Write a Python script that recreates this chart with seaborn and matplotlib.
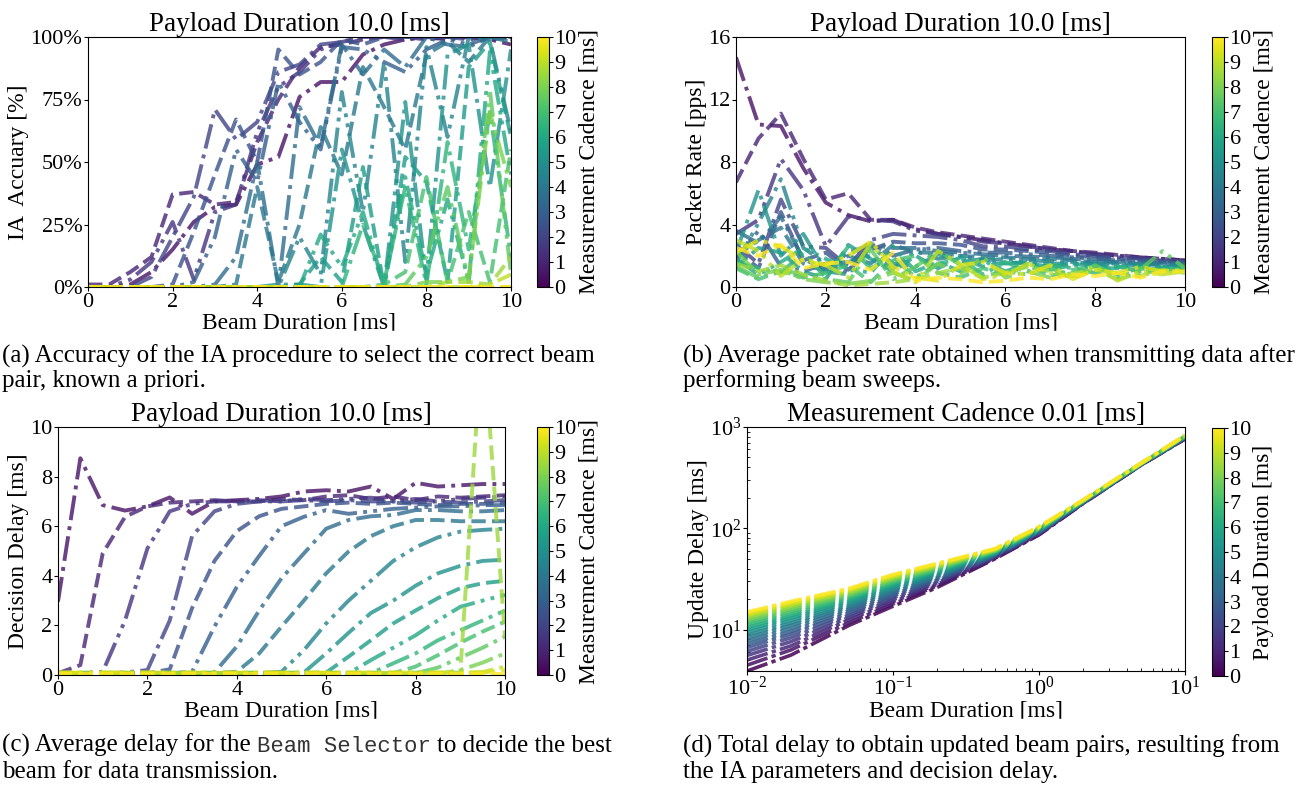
import matplotlib
matplotlib.use("Agg")
import matplotlib.pyplot as plt
import seaborn as sns
import pandas as pd
from matplotlib.colors import Normalize
from matplotlib.cm import ScalarMappable
from matplotlib.ticker import FuncFormatter
from matplotlib.patches import Rectangle

# ---------------- data ----------------
BEAM = [0, 0.5, 1, 1.5, 2, 2.5, 3, 3.5, 4, 4.5, 5, 5.5, 6, 6.5, 7, 7.5, 8, 8.5, 9, 9.5, 10]
CADENCE = [0.5, 1.0, 1.5, 2.0, 2.5, 3.0, 3.5, 4.0, 4.5, 5.0,
           5.5, 6.0, 6.5, 7.0, 7.5, 8.0, 8.5, 9.0, 9.5, 10.0]

# (a) IA accuracy [%], one row per measurement cadence
ACCURACY = [
    [0, 0, 1, 6, 15, 26, 32, 33, 49, 52, 76, 82, 82, 93, 97, 99, 100, 99, 100, 99, 97],
    [1, 1, 6, 12, 37, 38, 33, 34, 58, 75, 88, 96, 97, 99, 100, 100, 99, 100, 100, 99, 100],
    [0, 0, 3, 10, 26, 3, 30, 33, 62, 80, 86, 95, 98, 100, 100, 99, 100, 100, 100, 100, 100],
    [0, 0, 0, 4, 20, 36, 71, 59, 66, 86, 89, 97, 98, 100, 100, 100, 100, 100, 99, 100, 100],
    [0, 0, 0, 0, 1, 22, 45, 67, 50, 95, 85, 90, 99, 97, 100, 100, 100, 100, 100, 100, 100],
    [0, 0, 0, 0, 0, 2, 20, 55, 42, 82, 66, 55, 96, 95, 90, 86, 95, 99, 97, 100, 99],
    [0, 0, 0, 0, 0, 0, 1, 12, 50, 0, 72, 56, 97, 85, 95, 88, 100, 97, 96, 100, 100],
    [0, 0, 0, 0, 0, 0, 0, 1, 40, 2, 25, 64, 45, 88, 72, 55, 93, 98, 90, 100, 98],
    [0, 0, 0, 0, 0, 0, 0, 0, 0, 0, 20, 5, 78, 30, 90, 10, 96, 60, 100, 99, 62],
    [0, 0, 0, 0, 0, 0, 0, 0, 0, 1, 1, 0, 55, 25, 0, 74, 3, 93, 97, 40, 95],
    [0, 0, 0, 0, 0, 0, 0, 0, 0, 0, 1, 12, 2, 48, 0, 52, 42, 2, 88, 98, 60],
    [0, 0, 0, 0, 0, 0, 0, 0, 0, 0, 0, 21, 8, 30, 0, 44, 5, 35, 2, 94, 45],
    [0, 0, 0, 0, 0, 0, 0, 0, 0, 0, 0, 0, 0, 25, 2, 40, 1, 58, 15, 70, 12],
    [0, 0, 0, 0, 0, 0, 0, 0, 0, 0, 0, 0, 0, 0, 1, 6, 44, 2, 30, 2, 55],
    [0, 0, 0, 0, 0, 0, 0, 0, 0, 0, 0, 0, 0, 0, 0, 1, 12, 40, 2, 79, 5],
    [0, 0, 0, 0, 0, 0, 0, 0, 0, 0, 0, 0, 0, 0, 0, 0, 2, 2, 4, 70, 40],
    [0, 0, 0, 0, 0, 0, 0, 0, 0, 0, 0, 0, 0, 0, 0, 0, 0, 2, 2, 1, 12],
    [0, 0, 0, 0, 0, 0, 0, 0, 0, 0, 0, 0, 0, 0, 0, 0, 0, 0, 0, 1, 5],
    [0, 0, 0, 0, 0, 0, 0, 0, 0, 0, 0, 0, 0, 0, 0, 0, 0, 0, 0, 0, 0],
    [0, 0, 0, 0, 0, 0, 0, 0, 0, 0, 0, 0, 0, 0, 0, 0, 0, 0, 0, 0, 0],
]

# (b) packet rate [pps]
PACKET_RATE = [
    [14.7, 10.4, 10.3, 7.6, 5.4, 4.6, 4.2, 4.3, 3.7, 3.4, 3.2, 3.0, 2.8, 2.6, 2.4, 2.3, 2.1, 2.0, 1.9, 1.8, 1.7],
    [6.7, 9.5, 11.1, 8.2, 5.6, 6.0, 4.3, 4.3, 3.8, 3.5, 3.3, 3.1, 2.9, 2.7, 2.5, 2.3, 2.2, 2.05, 1.9, 1.8, 1.7],
    [3.4, 4.3, 8.2, 6.2, 2.6, 4.5, 4.3, 4.2, 3.6, 3.4, 3.2, 2.9, 2.8, 2.6, 2.4, 2.3, 2.1, 2.0, 1.85, 1.8, 1.7],
    [2.7, 1.5, 5.6, 2.6, 2.5, 1.3, 3.0, 3.4, 3.3, 3.2, 3.0, 2.6, 2.6, 2.4, 2.3, 2.1, 2.0, 1.9, 1.8, 1.7, 1.6],
    [2.4, 1.2, 4.8, 1.7, 2.2, 1.1, 2.4, 2.9, 2.8, 2.8, 2.7, 2.4, 2.4, 2.3, 2.2, 2.0, 1.9, 1.8, 1.7, 1.65, 1.6],
    [1.8, 3.6, 1.3, 1.0, 1.5, 0.9, 2.8, 2.0, 2.4, 2.5, 2.3, 2.2, 2.2, 2.1, 2.0, 1.9, 1.8, 1.7, 1.65, 1.6, 1.5],
    [3.6, 2.8, 4.5, 1.8, 1.1, 2.2, 2.7, 2.5, 2.5, 2.3, 2.2, 2.1, 2.0, 1.95, 1.9, 1.8, 1.7, 1.6, 1.55, 1.5, 1.5],
    [2.0, 3.0, 3.8, 1.5, 1.0, 2.0, 1.5, 2.7, 2.2, 2.2, 2.0, 1.9, 1.9, 1.8, 1.8, 1.7, 1.6, 1.55, 1.5, 1.45, 1.4],
    [1.5, 4.1, 6.9, 2.5, 1.5, 1.6, 2.0, 1.2, 2.3, 1.8, 2.0, 1.7, 1.8, 1.7, 1.65, 1.6, 1.5, 1.5, 1.45, 1.4, 1.4],
    [2.2, 6.2, 2.0, 3.4, 1.0, 0.8, 2.6, 1.5, 1.3, 2.1, 1.6, 1.8, 1.5, 1.6, 1.5, 1.5, 1.45, 1.4, 1.35, 1.3, 1.3],
    [1.3, 2.5, 2.2, 1.0, 0.5, 2.7, 1.8, 1.0, 2.0, 1.2, 1.9, 1.3, 1.6, 1.5, 1.3, 1.5, 1.3, 1.3, 1.3, 1.25, 1.2],
    [1.8, 0.8, 1.6, 2.5, 1.8, 1.2, 0.9, 2.6, 1.0, 1.6, 1.0, 1.7, 1.0, 1.5, 1.1, 1.4, 1.2, 1.2, 1.1, 1.2, 1.1],
    [1.6, 1.2, 0.9, 2.2, 0.6, 2.6, 1.2, 1.9, 0.6, 1.5, 1.8, 0.8, 1.6, 1.0, 1.4, 1.2, 0.9, 1.3, 1.0, 1.1, 1.2],
    [1.2, 0.5, 1.0, 0.6, 0.9, 1.4, 0.3, 1.7, 2.0, 0.9, 0.6, 1.2, 0.8, 1.4, 0.7, 1.1, 1.3, 0.8, 1.2, 1.0, 1.1],
    [1.3, 0.6, 1.2, 0.7, 0.5, 0.3, 2.4, 0.5, 1.3, 2.3, 1.4, 0.7, 1.0, 0.8, 1.2, 0.7, 1.4, 0.6, 1.1, 2.3, 1.2],
    [2.3, 0.8, 1.1, 0.5, 0.3, 0.2, 0.4, 0.9, 0.4, 1.5, 0.8, 1.9, 0.6, 1.0, 0.6, 0.9, 1.1, 0.5, 0.9, 1.0, 1.0],
    [1.5, 1.0, 1.4, 0.8, 0.4, 0.1, 0.2, 0.3, 0.5, 0.9, 1.2, 0.6, 0.9, 1.3, 1.0, 0.6, 1.1, 0.9, 0.7, 1.1, 0.9],
    [3.0, 2.3, 0.7, 1.8, 1.4, 0.6, 2.8, 1.0, 0.3, 2.3, 1.5, 0.5, 0.8, 1.5, 0.9, 0.7, 1.3, 0.4, 1.0, 0.8, 1.0],
    [2.2, 3.0, 2.6, 1.7, 1.4, 2.0, 2.9, 1.3, 0.6, 0.4, 1.4, 1.6, 0.9, 0.8, 1.4, 0.5, 1.1, 0.9, 1.3, 1.0, 1.1],
    [2.5, 2.0, 2.7, 1.2, 1.5, 1.6, 1.1, 2.2, 0.4, 0.6, 0.5, 0.3, 0.4, 0.6, 0.5, 0.8, 0.7, 0.9, 0.6, 1.0, 1.0],
]

# (c) decision delay [ms]
DECISION_DELAY = [
    [2.96, 8.74, 6.85, 6.63, 6.8, 7.16, 6.5, 7.0, 7.05, 7.1, 7.2, 7.4, 7.45, 7.4, 7.6, 7.1, 7.75, 7.6, 7.65, 7.7, 7.7],
    [0.07, 0.4, 4.9, 6.38, 6.8, 6.95, 7.0, 7.05, 7.0, 7.0, 7.1, 7.05, 7.2, 7.25, 7.1, 7.2, 7.05, 7.2, 7.15, 7.2, 7.25],
    [0.07, 0.07, 0.13, 2.2, 5.1, 6.6, 6.9, 7.0, 7.0, 7.05, 7.0, 7.1, 7.05, 7.1, 7.15, 7.0, 7.1, 7.0, 7.1, 7.15, 7.2],
    [0.07, 0.07, 0.07, 0.1, 0.2, 2.2, 5.6, 6.6, 6.9, 7.0, 7.0, 7.05, 7.0, 7.05, 7.0, 7.0, 6.95, 7.0, 6.95, 7.0, 7.05],
    [0.07, 0.07, 0.07, 0.07, 0.07, 0.23, 2.7, 4.6, 5.8, 6.4, 6.7, 6.8, 6.9, 6.95, 6.9, 6.95, 6.9, 6.85, 6.9, 6.9, 6.95],
    [0.07, 0.07, 0.07, 0.07, 0.07, 0.07, 0.13, 1.95, 3.55, 4.8, 6.0, 6.38, 6.65, 6.5, 6.6, 6.7, 6.75, 6.8, 6.8, 6.85, 6.85],
    [0.07, 0.07, 0.07, 0.07, 0.07, 0.07, 0.07, 0.1, 1.15, 2.6, 3.9, 4.9, 5.9, 6.25, 6.4, 6.45, 6.65, 6.65, 6.6, 6.6, 6.65],
    [0.07, 0.07, 0.07, 0.07, 0.07, 0.07, 0.07, 0.07, 0.13, 0.87, 1.95, 3.0, 4.1, 4.98, 5.6, 6.0, 6.25, 6.25, 6.2, 6.2, 6.2],
    [0.07, 0.07, 0.07, 0.07, 0.07, 0.07, 0.07, 0.07, 0.07, 0.07, 0.13, 1.0, 2.08, 3.0, 3.8, 4.6, 5.15, 5.55, 5.78, 5.85, 5.9],
    [0.07, 0.07, 0.07, 0.07, 0.07, 0.07, 0.07, 0.07, 0.07, 0.07, 0.07, 0.1, 0.87, 1.7, 2.5, 3.0, 3.6, 4.1, 4.4, 4.6, 4.65],
    [0.07, 0.07, 0.07, 0.07, 0.07, 0.07, 0.07, 0.07, 0.07, 0.07, 0.07, 0.07, 0.1, 0.74, 1.4, 2.08, 2.6, 3.1, 3.5, 3.7, 3.8],
    [0.07, 0.07, 0.07, 0.07, 0.07, 0.07, 0.07, 0.07, 0.07, 0.07, 0.07, 0.07, 0.07, 0.07, 0.6, 1.1, 1.6, 2.2, 2.75, 3.0, 3.23],
    [0.07, 0.07, 0.07, 0.07, 0.07, 0.07, 0.07, 0.07, 0.07, 0.07, 0.07, 0.07, 0.07, 0.07, 0.07, 0.47, 0.87, 1.4, 1.8, 2.2, 2.6],
    [0.07, 0.07, 0.07, 0.07, 0.07, 0.07, 0.07, 0.07, 0.07, 0.07, 0.07, 0.07, 0.07, 0.07, 0.07, 0.07, 0.34, 0.8, 1.3, 1.75, 2.15],
    [0.07, 0.07, 0.07, 0.07, 0.07, 0.07, 0.07, 0.07, 0.07, 0.07, 0.07, 0.07, 0.07, 0.07, 0.07, 0.07, 0.07, 0.3, 0.7, 1.1, 1.55],
    [0.05, 0.05, 0.05, 0.05, 0.05, 0.05, 0.05, 0.05, 0.05, 0.05, 0.05, 0.05, 0.05, 0.05, 0.05, 0.05, 0.05, 0.05, 0.2, 0.5, 0.87],
    [0.1, 0.1, 0.1, 0.1, 0.1, 0.1, 0.1, 0.1, 0.1, 0.1, 0.1, 0.1, 0.1, 0.1, 0.1, 0.1, 0.1, 0.1, 0.1, 14.0, 1.5],
    [0.08, 0.08, 0.08, 0.08, 0.08, 0.08, 0.08, 0.08, 0.08, 0.08, 0.08, 0.08, 0.08, 0.08, 0.08, 0.08, 0.08, 0.08, 0.08, 0.12, 0.34],
    [0.1, 0.1, 0.1, 0.1, 0.1, 0.1, 0.1, 0.1, 0.1, 0.1, 0.1, 0.1, 0.1, 0.1, 0.1, 0.1, 0.1, 0.1, 0.1, 0.1, 0.2],
    [0.06, 0.06, 0.06, 0.06, 0.06, 0.06, 0.06, 0.06, 0.06, 0.06, 0.06, 0.06, 0.06, 0.06, 0.06, 0.06, 0.06, 0.06, 0.06, 0.06, 0.06],
]

# (d) update delay [ms] on log axes, one row per payload duration
BEAM_LOG = [0.01, 0.02, 0.05, 0.1, 0.2, 0.5, 1, 2, 5, 10]
PAYLOAD = [0, 0.5, 1.0, 1.5, 2.0, 2.5, 3.0, 3.5, 4.0, 4.5, 5.0,
           5.5, 6.0, 6.5, 7.0, 7.5, 8.0, 8.5, 9.0, 9.5, 10.0]
UPDATE_DELAY = [
    [3.9, 5.6, 11.0, 17.0, 26.0, 50.0, 86.0, 175.0, 420, 760],
    [4.45, 6.3, 11.7, 17.9, 27.0, 50.7, 86.9, 175.8, 421, 763],
    [5.0, 6.9, 12.5, 18.8, 27.9, 51.3, 87.8, 176.5, 422, 767],
    [5.55, 7.6, 13.2, 19.7, 28.9, 52.0, 88.7, 177.3, 423, 770],
    [6.1, 8.3, 13.9, 20.6, 29.8, 52.6, 89.6, 178.0, 424, 773],
    [6.65, 9.0, 14.6, 21.5, 30.8, 53.3, 90.5, 178.8, 425, 777],
    [7.2, 9.6, 15.4, 22.4, 31.7, 53.9, 91.4, 179.5, 426, 780],
    [7.75, 10.3, 16.1, 23.3, 32.7, 54.6, 92.3, 180.3, 427, 783],
    [8.3, 11.0, 16.8, 24.2, 33.6, 55.2, 93.2, 181.0, 428, 786],
    [8.85, 11.6, 17.5, 25.1, 34.6, 55.9, 94.1, 181.8, 429, 790],
    [9.4, 12.3, 18.3, 26.0, 35.5, 56.5, 95.0, 182.5, 430, 793],
    [9.95, 13.0, 19.0, 26.9, 36.5, 57.2, 95.9, 183.3, 431, 796],
    [10.5, 13.6, 19.7, 27.8, 37.4, 57.8, 96.8, 184.0, 432, 800],
    [11.05, 14.3, 20.4, 28.7, 38.4, 58.5, 97.7, 184.8, 433, 803],
    [11.6, 15.0, 21.2, 29.6, 39.3, 59.1, 98.6, 185.5, 434, 806],
    [12.15, 15.7, 21.9, 30.5, 40.3, 59.8, 99.5, 186.3, 435, 810],
    [12.7, 16.3, 22.6, 31.4, 41.2, 60.4, 100.4, 187.0, 436, 813],
    [13.25, 17.0, 23.3, 32.3, 42.2, 61.1, 101.3, 187.8, 437, 816],
    [13.8, 17.7, 24.1, 33.2, 43.1, 61.7, 102.2, 188.5, 438, 819],
    [14.35, 18.3, 24.8, 34.1, 44.1, 62.4, 103.1, 189.3, 439, 823],
    [14.9, 19.0, 25.5, 35.0, 45.0, 63.0, 104.0, 190.0, 440, 826],
]

# ---------------- styling ----------------
plt.rcParams["font.family"] = ["Liberation Serif", "DejaVu Serif"]
plt.rcParams["mathtext.fontset"] = "stix"

W, H = 1307, 787
fig = plt.figure(figsize=(W / 100, H / 100), dpi=100)


def rect(l, t, r, b):
    return [l / W, 1 - b / H, (r - l) / W, (b - t) / H]


DASHES = {0: (6.4, 1.6, 1.0, 1.6), 1: (3.7, 1.6), 2: (6.4, 1.6, 1.0, 1.6, 1.0, 1.6)}


def long_form(xs, rows, levels):
    recs = []
    for j, (lev, row) in enumerate(zip(levels, rows)):
        for xv, yv in zip(xs, row):
            recs.append((xv, yv, lev, j % 3))
    return pd.DataFrame(recs, columns=["x", "y", "level", "dash"])


def style_axes(ax, title, ylabel):
    ax.set_title(title, fontsize=19.5, pad=3)
    ax.set_xlabel("Beam Duration [ms]", fontsize=17, labelpad=0.5)
    ax.set_ylabel(ylabel, fontsize=17, labelpad=1)
    ax.tick_params(labelsize=16, length=3, pad=1)


def add_cbar(r, label):
    cax = fig.add_axes(rect(*r))
    cb = fig.colorbar(ScalarMappable(norm=Normalize(0, 10), cmap="viridis"),
                      cax=cax, ticks=range(11))
    cb.ax.tick_params(labelsize=16, length=3, pad=1)
    cb.set_label(label, fontsize=17, labelpad=1)


def fan(ax, rows):
    df = long_form(BEAM, rows, CADENCE)
    sns.lineplot(data=df, x="x", y="y", hue="level", style="dash", dashes=DASHES,
                 palette="viridis", hue_norm=(0, 10), linewidth=2.8, alpha=0.8,
                 legend=False, estimator=None, sort=False, ax=ax)
    ax.set_xlim(0, 10)
    ax.set_xticks([0, 2, 4, 6, 8, 10])


# (a)
ax_a = fig.add_axes(rect(88, 37, 511, 287))
fan(ax_a, ACCURACY)
ax_a.set_ylim(0, 100)
ax_a.set_yticks([0, 25, 50, 75, 100])
ax_a.yaxis.set_major_formatter(FuncFormatter(lambda v, _: f"{v:.0f}%"))
style_axes(ax_a, "Payload Duration 10.0 [ms]", "IA  Accuary [%]")
add_cbar((537, 37, 549, 287), "Measurement Cadence [ms]")

# (b)
ax_b = fig.add_axes(rect(736, 37, 1185, 287))
fan(ax_b, PACKET_RATE)
ax_b.set_ylim(0, 16)
ax_b.set_yticks([0, 4, 8, 12, 16])
style_axes(ax_b, "Payload Duration 10.0 [ms]", "Packet Rate [pps]")
add_cbar((1212, 37, 1224, 287), "Measurement Cadence [ms]")

# (c)
ax_c = fig.add_axes(rect(58, 427, 505, 675))
fan(ax_c, DECISION_DELAY)
ax_c.set_ylim(0, 10)
ax_c.set_yticks([0, 2, 4, 6, 8, 10])
style_axes(ax_c, "Payload Duration 10.0 [ms]", "Decision Delay [ms]")
add_cbar((537, 427, 549, 675), "Measurement Cadence [ms]")

# (d)
ax_d = fig.add_axes(rect(747, 427, 1185, 671))
df_d = long_form(BEAM_LOG, UPDATE_DELAY, PAYLOAD)
sns.lineplot(data=df_d, x="x", y="y", hue="level", palette="viridis", hue_norm=(0, 10),
             linewidth=2.6, alpha=0.85, linestyle=(0, (6, 1.2, 1.2, 1.2)),
             legend=False, estimator=None, sort=False, ax=ax_d)
ax_d.set_xscale("log")
ax_d.set_yscale("log")
ax_d.set_xlim(0.01, 10)
ax_d.set_ylim(3.9, 1000)
style_axes(ax_d, "Measurement Cadence 0.01 [ms]", "Update Delay [ms]")
ax_d.tick_params(which="minor", length=2, direction="in")
add_cbar((1212, 428, 1224, 676), "Payload Duration [ms]")

# clip the x labels like the cropped sub-figures
for y0 in (331, 719):
    fig.patches.append(Rectangle((0, 1 - (y0 + 10) / H), 1, 10 / H,
                                 transform=fig.transFigure, color="white", zorder=5))

# ---------------- captions ----------------
CAP = 18
fig.text(2 / W, 1 - 356 / H, "(a) Accuracy of the IA procedure to select the correct beam",
         fontsize=CAP, va="center")
fig.text(2 / W, 1 - 381 / H, "pair, known a priori.", fontsize=CAP, va="center")
fig.text(683 / W, 1 - 356 / H, "(b) Average packet rate obtained when transmitting data after",
         fontsize=CAP, va="center")
fig.text(683 / W, 1 - 381 / H, "performing beam sweeps.", fontsize=CAP, va="center")

renderer = fig.canvas.get_renderer()
yb = 1 - 752 / H
t1 = fig.text(2 / W, yb, "(c) Average delay for the", fontsize=CAP, va="baseline")
x1 = t1.get_window_extent(renderer).x1 + 6
t2 = fig.text(x1 / W, yb, "Beam Selector", family="Liberation Mono", fontsize=16,
              va="baseline", color="#333333")
x2 = t2.get_window_extent(renderer).x1 + 6
fig.text(x2 / W, yb, "to decide the best", fontsize=CAP, va="baseline")
fig.text(2 / W, 1 - 772 / H, "beam for data transmission.", fontsize=CAP, va="center")
fig.text(683 / W, 1 - 746 / H, "(d) Total delay to obtain updated beam pairs, resulting from",
         fontsize=CAP, va="center")
fig.text(683 / W, 1 - 772 / H, "the IA parameters and decision delay.", fontsize=CAP, va="center")

fig.savefig("out.png", dpi=100)
